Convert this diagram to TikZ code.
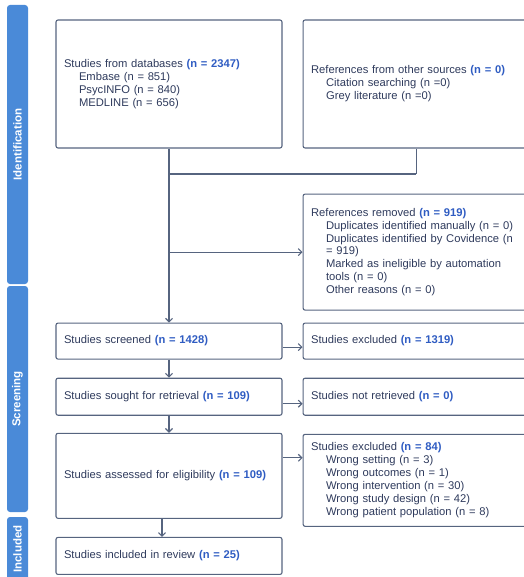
\documentclass[tikz,border=0pt]{standalone}
\usepackage{fontspec}
\setmainfont{Liberation Sans}
\usetikzlibrary{positioning, arrows.meta}
\definecolor{phaseblue}{HTML}{4A8AD8}
\definecolor{boxline}{HTML}{56647F}
\definecolor{boxtext}{HTML}{2E3A5C}
\definecolor{countblue}{HTML}{2F5CC2}
\newcommand{\cnt}[1]{\textbf{\color{countblue}#1}}
\newcommand{\ind}{\hspace*{15pt}}

\begin{document}
\begin{tikzpicture}[
        x = 1pt, y = -1pt,
        node distance = 20pt,
        -{Straight Barb[length = 3.5pt, width = 7pt]},
        every node/.style = {font = \fontsize{11.2}{12.9}\selectfont, text = boxtext},
        box/.style = {draw = boxline, line width = 1.1pt, rounded corners = 2pt,
                      text width = 210pt, inner xsep = 8pt, align = left},
        phase/.style = {fill = phaseblue, rounded corners = 3pt, rotate = 90,
                        minimum height = 21pt, inner sep = 0pt, text = white,
                        font = \fontsize{11.5}{13}\selectfont\bfseries},
        link/.style = {color = boxline, line width = 1.1pt}]

      \useasboundingbox (0,0) rectangle (523,577);

      %phase bars
      \node[phase, minimum width = 279pt] (identBar) at (17.5,144.5) {Identification};
      \node[phase, minimum width = 226pt] (screenBar) at (17.5,399) {Screening};
      \node[phase, minimum width = 64pt] (inclBar) at (17.5,549) {Included};

      %identification
      \node[box, minimum height = 128pt] (dbs) at (169,84)
        {Studies from databases \cnt{(n = 2347)}\\
         \ind Embase (n = 851)\\
         \ind PsycINFO (n = 840)\\
         \ind MEDLINE (n = 656)};
      \node[box, minimum height = 128pt] (others) [right = of dbs]
        {References from other sources \cnt{(n = 0)}\\
         \ind Citation searching (n =0)\\
         \ind Grey literature (n =0)};
      \node[box, minimum height = 116pt] (removed) [below = 45pt of others]
        {References removed \cnt{(n = 919)}\\
         \ind Duplicates identified manually (n = 0)\\
         \ind Duplicates identified by Covidence (n\\
         \ind = 919)\\
         \ind Marked as ineligible by automation\\
         \ind tools (n = 0)\\
         \ind Other reasons (n = 0)};

      %screening
      \node[box, minimum height = 36pt] (screened) [below = 174pt of dbs]
        {Studies screened \cnt{(n = 1428)}};
      \node[box, minimum height = 36pt] (excluded) [right = of screened]
        {Studies excluded \cnt{(n = 1319)}};
      \node[box, minimum height = 37pt] (sought) [below = 18pt of screened]
        {Studies sought for retrieval \cnt{(n = 109)}};
      \node[box, minimum height = 37pt] (notRetrieved) [right = of sought]
        {Studies not retrieved \cnt{(n = 0)}};
      \node[box, minimum height = 85pt] (assessed) [below = 17pt of sought]
        {Studies assessed for eligibility \cnt{(n = 109)}};
      \node[box, minimum height = 92pt] (exclReasons)
        [right = of assessed.north east, anchor = north west, yshift = -1pt]
        {Studies excluded \cnt{(n = 84)}\\
         \ind Wrong setting (n = 3)\\
         \ind Wrong outcomes (n = 1)\\
         \ind Wrong intervention (n = 30)\\
         \ind Wrong study design (n = 42)\\
         \ind Wrong patient population (n = 8)};

      %included
      \node[box, minimum height = 37pt] (included) [below = 18pt of assessed]
        {Studies included in review \cnt{(n = 25)}};

      %junctions
      \coordinate (mergeLine) at (0,174);
      \coordinate (splitRemoved) at (dbs.south |- removed.west);

      \begin{scope}[-]
      %merge of the two sources
        \path[link]
        (others) edge (others.south |- mergeLine)
        (others.south |- mergeLine) edge (dbs.south |- mergeLine)
        ;
      \end{scope}

      \begin{scope}
      %main flow
        \path[link]
        (dbs) edge (screened)
        (splitRemoved) edge (removed)
        (screened) edge (sought)
        (sought) edge (assessed)
        ([xshift = -7pt]assessed.south) edge ([xshift = -7pt]included.north)
        ;
      %exclusions
        \path[link]
        ([yshift = -6pt]screened.east) edge ([yshift = -6pt]excluded.west)
        ([yshift = -7pt]sought.east) edge ([yshift = -7pt]notRetrieved.west)
        ([yshift = -25pt]assessed.north east) edge ([yshift = -24pt]exclReasons.north west)
        ;
      \end{scope}
    \end{tikzpicture}
\end{document}
